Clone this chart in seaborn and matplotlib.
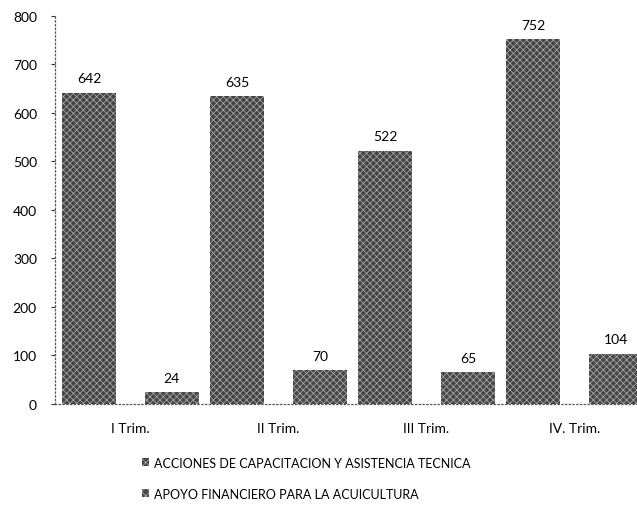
import pandas as pd
import matplotlib
matplotlib.use("Agg")
import matplotlib.pyplot as plt
import seaborn as sns

# ── datos ────────────────────────────────────────────────────────────────
trimestres = ["I Trim.", "II Trim.", "III Trim.", "IV. Trim."]
capacitacion = [642, 635, 522, 752]
apoyo = [24, 70, 65, 104]
serie_cap = "ACCIONES DE CAPACITACION Y ASISTENCIA TECNICA"
serie_apo = "APOYO FINANCIERO PARA LA ACUICULTURA"
yticks = [0, 100, 200, 300, 400, 500, 600, 700, 800]

df = pd.DataFrame({
    "trim": trimestres * 2,
    "valor": capacitacion + apoyo,
    "serie": [serie_cap] * len(trimestres) + [serie_apo] * len(trimestres),
})

sns.set_theme(style="white")
plt.rcParams['font.family'] = ['Lato', 'DejaVu Sans']
plt.rcParams['hatch.linewidth'] = 0.5

fig = plt.figure(figsize=(6.37, 5.06), dpi=100)
ax = fig.add_axes([0.0863, 0.1996, 0.934, 0.767])

sns.barplot(data=df, x="trim", y="valor", hue="serie",
            palette=["#444444", "#484848"], width=1.12, gap=0.34,
            edgecolor="none", ax=ax)

# textura tipo escaneo
for p in ax.patches:
    p.set_hatch("xxxxx")
    p.set_edgecolor("#b0b0b0")
    p.set_linewidth(0)

for cont in ax.containers:
    ax.bar_label(cont, padding=6, fontsize=10, color="black")

ax.set_xlim(-0.51, 3.51)
ax.set_ylim(0, 800)
ax.set_yticks(yticks)
ax.set_xlabel("")
ax.set_ylabel("")
ax.tick_params(axis="y", direction="out", length=3, width=0.8, color="#333333",
               labelsize=10, pad=10, left=True, labelcolor="black")
ax.tick_params(axis="x", length=0, labelsize=10, pad=13, labelcolor="black")

for s in ["top", "right"]:
    ax.spines[s].set_visible(False)
for s in ["left", "bottom"]:
    ax.spines[s].set_linestyle((0, (1, 2)))
    ax.spines[s].set_color("#555555")
    ax.spines[s].set_linewidth(0.9)

handles, labels = ax.get_legend_handles_labels()
ax.get_legend().remove()
for h in handles:
    h.set_hatch("xxxx")
    h.set_edgecolor("#b5b5b5")
fig.legend(handles, labels, loc="upper left", bbox_to_anchor=(0.215, 0.105),
           frameon=False, fontsize=9, handlelength=0.6, handleheight=0.6,
           handletextpad=0.4, labelspacing=1.5, borderaxespad=0,
           labelcolor="black")

fig.savefig("out.png", dpi=100)
